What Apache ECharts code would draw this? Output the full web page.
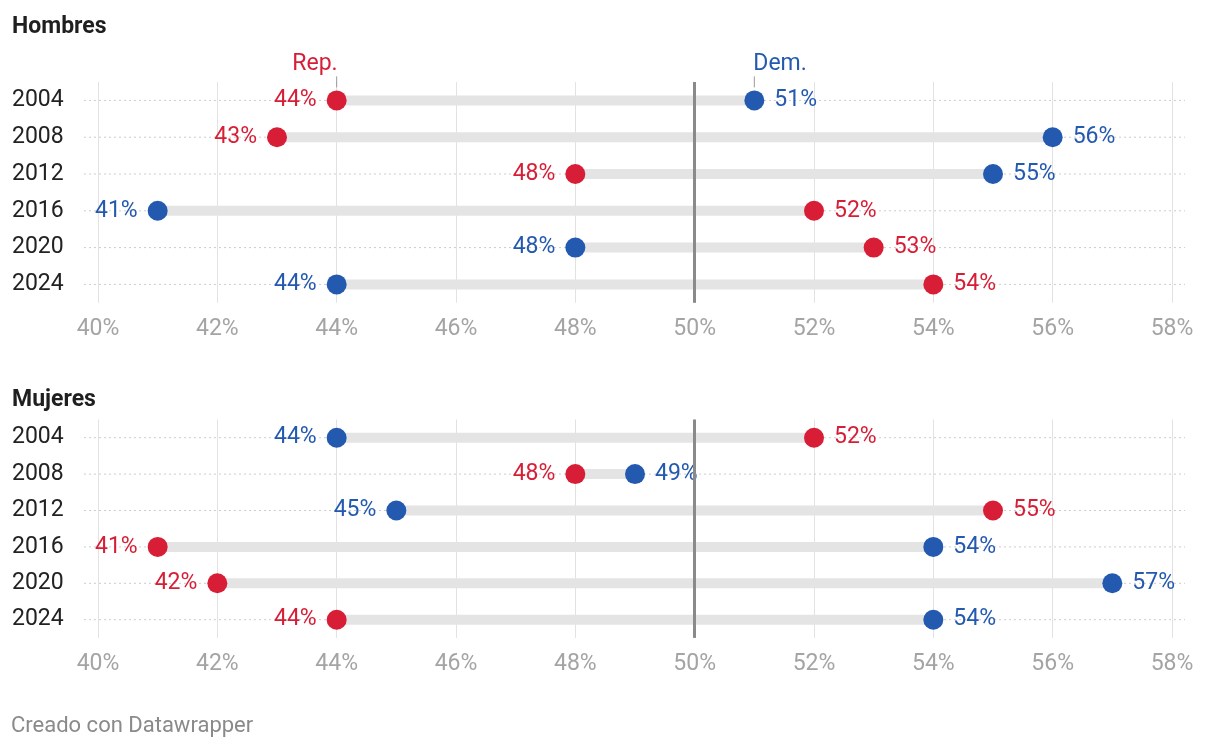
<!DOCTYPE html>
<html>
<head>
<meta charset="utf-8">
<script src="https://cdn.jsdelivr.net/npm/echarts@6/dist/echarts.min.js"></script>
<style>
html,body{margin:0;padding:0;background:#fff;}
#chart{width:1220px;height:748px;}
</style>
</head>
<body>
<div id="chart"></div>
<script>
const years = ['2004','2008','2012','2016','2020','2024'];
const xTicks = [40,42,44,46,48,50,52,54,56,58];
const menRep = [44,43,48,52,53,54];
const menDem = [51,56,55,41,48,44];
const womenRep = [52,48,55,41,42,44];
const womenDem = [44,49,45,54,57,54];
const annotations = [['Rep.',44,'rep'],['Dem.',51,'dem']];
const panelTitles = ['Hombres','Mujeres'];
const footer = 'Creado con Datawrapper';

const RED = '#d71e36';
const BLUE = '#2459b0';
const FONT = 'Roboto, "Noto Sans", sans-serif';

const chart = echarts.init(document.getElementById('chart'), null, {renderer:'canvas'});

function grid(top, height){ return {left:98, right:48, top:top, height:height, containLabel:false}; }

function xAxis(gi){
  return {
    gridIndex:gi, type:'value', min:xTicks[0], max:xTicks[xTicks.length-1], interval:2,
    axisLine:{show:false}, axisTick:{show:false},
    splitLine:{show:true, lineStyle:{color:'#e2e2e2', width:1}},
    axisLabel:{formatter:'{value}%', color:'#a4a4a4', fontSize:23, fontFamily:FONT, margin:15}
  };
}
function yAxis(gi){
  return {
    gridIndex:gi, type:'category', data:years, inverse:true,
    axisLine:{show:false}, axisTick:{show:false}, splitLine:{show:false},
    axisLabel:{align:'left', margin:86, color:'#222', fontSize:23, fontFamily:FONT}
  };
}

function bgSeries(gi, rep, dem){
  return {
    type:'custom', xAxisIndex:gi, yAxisIndex:gi, z:1, silent:true,
    data: years.map((y,i)=>[rep[i], dem[i], y]),
    encode:{x:[0,1], y:2},
    renderItem:function(params, api){
      const i = params.dataIndex;
      const a = api.coord([api.value(0), i]);
      const b = api.coord([api.value(1), i]);
      const l = api.coord([xTicks[0], i]);
      const r = api.coord([xTicks[xTicks.length-1], i]);
      const x0 = Math.min(a[0], b[0]), x1 = Math.max(a[0], b[0]);
      return {type:'group', children:[
        {type:'line', shape:{x1:l[0]-14, y1:l[1], x2:r[0]+13, y2:r[1]},
         style:{stroke:'#cccccc', lineWidth:1, lineDash:[2,3]}},
        {type:'rect', shape:{x:x0, y:a[1]-5, width:x1-x0, height:10},
         style:{fill:'#e4e4e4'}}
      ]};
    }
  };
}

function midSeries(gi){
  return {
    type:'line', xAxisIndex:gi, yAxisIndex:gi, data:[], z:2,
    markLine:{silent:true, symbol:'none', label:{show:false},
      lineStyle:{color:'#8a8a8a', width:3, type:'solid'},
      data:[{xAxis:50}]}
  };
}

function dotSeries(gi, vals, other, color, name){
  return {
    type:'scatter', name:name, xAxisIndex:gi, yAxisIndex:gi, z:3,
    symbolSize:20, itemStyle:{color:color, opacity:1},
    data: vals.map((v,i)=>({
      value:[v, years[i]],
      label:{position: v < other[i] ? 'left' : 'right'}
    })),
    label:{show:true, distance:10, color:color, fontSize:23, fontFamily:FONT,
      formatter:p=>p.value[0]+'%'}
  };
}

function annoSeries(gi){
  return {
    type:'custom', xAxisIndex:gi, yAxisIndex:gi, z:4, silent:true,
    data: annotations.map(a=>[a[1], years[0]]),
    encode:{x:0, y:1},
    renderItem:function(params, api){
      const a = annotations[params.dataIndex];
      const p = api.coord([api.value(0), 0]);
      const isRep = a[2]==='rep';
      return {type:'group', children:[
        {type:'line', shape:{x1:p[0], y1:p[1]-24, x2:p[0], y2:p[1]-13},
         style:{stroke:'#999', lineWidth:1}},
        {type:'text', x:p[0] + (isRep ? 1 : -1), y:p[1]-36,
         style:{text:a[0], fill:isRep?RED:BLUE, fontSize:23, fontFamily:FONT,
                align:isRep?'right':'left', verticalAlign:'middle'}}
      ]};
    }
  };
}

const option = {
  backgroundColor:'#fff',
  animation:false,
  textStyle:{fontFamily:FONT},
  title:[
    {text:panelTitles[0], left:12, top:16, padding:0, textStyle:{fontSize:23, fontWeight:'bold', color:'#1f1f1f', fontFamily:FONT}},
    {text:panelTitles[1], left:12, top:389, padding:0, textStyle:{fontSize:23, fontWeight:'bold', color:'#1f1f1f', fontFamily:FONT}},
    {text:footer, left:11, top:715, padding:0, textStyle:{fontSize:22, fontWeight:'normal', color:'#8a8a8a', fontFamily:FONT}}
  ],
  grid:[grid(82, 220.8), grid(419.5, 218.4)],
  xAxis:[xAxis(0), xAxis(1)],
  yAxis:[yAxis(0), yAxis(1)],
  series:[
    bgSeries(0, menRep, menDem),
    midSeries(0),
    dotSeries(0, menRep, menDem, RED, 'Rep.'),
    dotSeries(0, menDem, menRep, BLUE, 'Dem.'),
    annoSeries(0),
    bgSeries(1, womenRep, womenDem),
    midSeries(1),
    dotSeries(1, womenRep, womenDem, RED, 'Rep.'),
    dotSeries(1, womenDem, womenRep, BLUE, 'Dem.')
  ]
};
chart.setOption(option);
</script>
</body>
</html>
